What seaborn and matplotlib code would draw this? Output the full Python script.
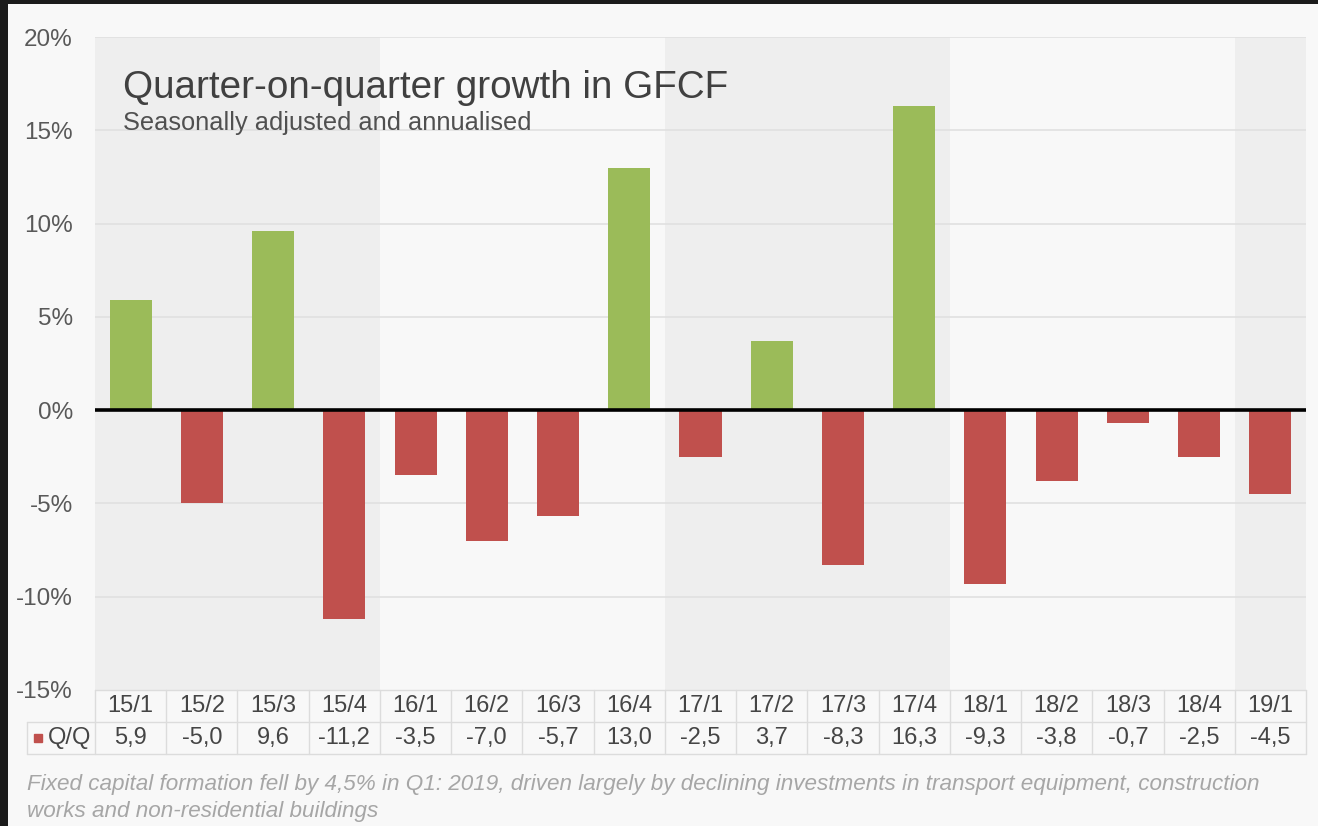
import matplotlib
matplotlib.use("Agg")
import matplotlib.pyplot as plt
import matplotlib.patches as mpatches
from matplotlib.transforms import blended_transform_factory
from matplotlib.ticker import FuncFormatter
import seaborn as sns
import pandas as pd

quarters = ["15/1", "15/2", "15/3", "15/4", "16/1", "16/2", "16/3", "16/4",
            "17/1", "17/2", "17/3", "17/4", "18/1", "18/2", "18/3", "18/4", "19/1"]
growth = [5.9, -5.0, 9.6, -11.2, -3.5, -7.0, -5.7, 13.0,
          -2.5, 3.7, -8.3, 16.3, -9.3, -3.8, -0.7, -2.5, -4.5]
shaded_years = ["15", "17", "19"]

title = "Quarter-on-quarter growth in GFCF"
subtitle = "Seasonally adjusted and annualised"
caption = ["Fixed capital formation fell by 4,5% in Q1: 2019, driven largely by declining investments in transport equipment, construction",
           "works and non-residential buildings"]

df = pd.DataFrame({"Quarter": quarters, "Value": growth})
df["Sign"] = ["pos" if v >= 0 else "neg" for v in df["Value"]]

sns.set_theme(style="white")
plt.rcParams["font.family"] = ["Liberation Sans", "DejaVu Sans"]

W, H = 1318, 826
bg = "#f8f8f8"
fig = plt.figure(figsize=(W / 100, H / 100), dpi=100, facecolor="#1b1b1b")
fig.patches.append(mpatches.Rectangle((8 / W, 0), 1, 1 - 4 / H, transform=fig.transFigure,
                                      facecolor=bg, edgecolor="none", zorder=-10))

left, right, top, bottom = 95, 1306, 37, 690
ax = fig.add_axes([left / W, 1 - bottom / H, (right - left) / W, (bottom - top) / H])
ax.set_facecolor(bg)

# year bands
for i, q in enumerate(quarters):
    if q.split("/")[0] in shaded_years:
        ax.axvspan(i - 0.5, i + 0.5, color="#eeeeee", lw=0, zorder=0)

for y in range(-10, 25, 5):
    ax.axhline(y, color="#e0e0e0", lw=1.2, zorder=1)

sns.barplot(data=df, x="Quarter", y="Value", hue="Sign", order=quarters,
            palette={"pos": "#9bbb59", "neg": "#c0504d"}, dodge=False,
            width=0.59, saturation=1, legend=False, ax=ax, zorder=2, linewidth=0)

ax.axhline(0, color="black", lw=2.6, zorder=3)

ax.set_xlim(-0.5, len(quarters) - 0.5)
ax.set_ylim(-15, 20)
ax.set_yticks(range(-15, 25, 5))
ax.yaxis.set_major_formatter(FuncFormatter(lambda v, p: f"{int(v)}%"))
ax.tick_params(axis="y", length=0, pad=16, labelsize=17.5, labelcolor="#595959")
ax.set_xticks([])
ax.set_xlabel("")
ax.set_ylabel("")
for s in ax.spines.values():
    s.set_visible(False)

# data table under the axis
trans = blended_transform_factory(ax.transData, ax.transAxes)
ah = bottom - top
r1, r2 = -32 / ah, -64 / ah
colw = (right - left) / len(quarters)
lab_x = -0.5 - (left - 27) / colw
lc = "#dcdcdc"
n = len(quarters)
ax.plot([-0.5, n - 0.5], [0, 0], color=lc, lw=1, transform=trans, clip_on=False)
ax.plot([lab_x, n - 0.5], [r1, r1], color=lc, lw=1, transform=trans, clip_on=False)
ax.plot([lab_x, n - 0.5], [r2, r2], color=lc, lw=1, transform=trans, clip_on=False)
ax.plot([lab_x, lab_x], [r1, r2], color=lc, lw=1, transform=trans, clip_on=False)
for i in range(n + 1):
    ax.plot([i - 0.5, i - 0.5], [0, r2], color=lc, lw=1, transform=trans, clip_on=False)
for i, (q, v) in enumerate(zip(quarters, growth)):
    ax.text(i, r1 / 2, q, ha="center", va="center", fontsize=17, color="#454545",
            transform=trans, clip_on=False)
    ax.text(i, (r1 + r2) / 2, f"{v:.1f}".replace(".", ","), ha="center", va="center",
            fontsize=17, color="#454545", transform=trans, clip_on=False)
ax.plot([lab_x + 10.5 / colw], [(r1 + r2) / 2], marker="s", ms=5.5, color="#c0504d",
        transform=trans, clip_on=False, lw=0)
ax.text(-0.5 - 4 / colw, (r1 + r2) / 2, "Q/Q", ha="right", va="center", fontsize=17,
        color="#454545", transform=trans, clip_on=False)

fig.text(123 / W, 1 - 98 / H, title, fontsize=27.8, color="#404040", va="baseline")
fig.text(123 / W, 1 - 130 / H, subtitle, fontsize=18.3, color="#505050", va="baseline")
for k, line in enumerate(caption):
    fig.text(27 / W, 1 - (790 + 27 * k) / H, line, fontsize=16.2, color="#a6a6a6",
             style="italic", va="baseline")

fig.savefig("out.png", dpi=100, facecolor=fig.get_facecolor())
